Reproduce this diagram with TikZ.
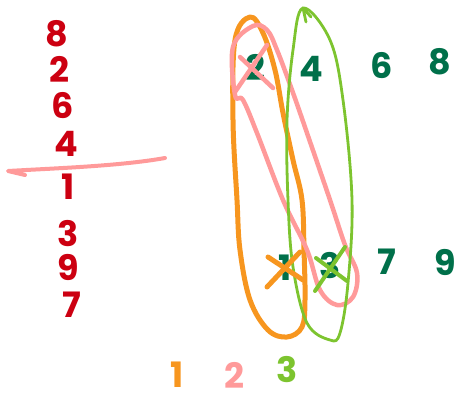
\documentclass[tikz,border=0pt]{standalone}
\usepackage{fontspec}
\setmainfont{Poppins}
\definecolor{dred}{HTML}{CC0011}
\definecolor{dgreen}{HTML}{00704A}
\definecolor{lorange}{HTML}{F7961F}
\definecolor{lpink}{HTML}{FF9A9A}
\definecolor{lgreen}{HTML}{7DC42F}
\tikzset{
  dig/.style={font=\fontsize{35}{35}\selectfont\bfseries, inner sep=0pt, text height=24pt, text depth=0pt},
  rdig/.style={dig, text=dred},
  gdig/.style={dig, text=dgreen},
  stroke/.style={line cap=round, line join=round},
}
\begin{document}
\begin{tikzpicture}[x=1pt,y=-1pt]
\useasboundingbox (0,0) rectangle (455,400);
% left column
\node[rdig] (l8) at (57,34) {8};
\node[rdig] (l2) at (59,70) {2};
\node[rdig] (l6) at (63,106) {6};
\node[rdig] (l4) at (66,144) {4};
\node[rdig] (l1) at (68,187) {1};
\node[rdig] (l3) at (68,234) {3};
\node[rdig] (l9) at (68,268) {9};
\node[rdig] (l7) at (72,305) {7};
\coordinate (sa) at (8,171);
\coordinate (sb) at (165,158);
\draw[stroke, lpink, line width=4] (25,175) -- (sa) .. controls (60,168) and (120,166) .. (sb);
% right digits
\node[gdig] (r2) at (255,68) {2};
\node[gdig] (r4) at (311,69) {4};
\node[gdig] (r6) at (382,66) {6};
\node[gdig] (r8) at (440,62) {8};
\node[gdig] (s1) at (285,268) {1};
\node[gdig] (s3) at (330,266) {3};
\node[gdig] (s7) at (387,262) {7};
\node[gdig] (s9) at (445,263) {9};
% loops
\draw[stroke, lorange, line width=5] plot[smooth cycle, tension=0.6] coordinates {
 (250,17) (263,33) (275,70) (283,113) (293,160) (302,200) (304,250) (305,300) (302,327) (287,337) (268,330) (250,300) (240,250) (237,200) (233,120) (235,40)};
\draw[stroke, lpink, line width=4.5] plot[smooth cycle, tension=0.6] coordinates {
 (253,26) (267,30) (277,50) (292,90) (307,133) (330,200) (345,245) (357,273) (353,297) (337,305) (320,290) (307,250) (283,200) (257,133) (243,100) (235,95) (233,47)};
\draw[stroke, lgreen, line width=2.8] plot[smooth cycle, tension=0.6] coordinates {
 (303,8) (330,40) (343,100) (352,200) (348,283) (340,333) (330,340) (307,323) (293,267) (288,200) (287,120) (293,50)};
\draw[stroke, lgreen, line width=2.8] (303,8) -- (311,17) (303,8) -- (306,22);
% crosses
\draw[stroke, lpink, line width=4.5] (240,57) -- (273,88) (235,92) -- (267,45);
\draw[stroke, lorange, line width=5] (268,257) -- (303,280) (267,287) -- (300,252);
\draw[stroke, lgreen, line width=4] (316,258) -- (347,281) (315,291) -- (345,247);
% bottom labels
\node[dig, text=lorange] (b1) at (177,375) {1};
\node[dig, text=lpink] (b2) at (234,376) {2};
\node[dig, text=lgreen] (b3) at (287,370) {3};
\end{tikzpicture}
\end{document}
